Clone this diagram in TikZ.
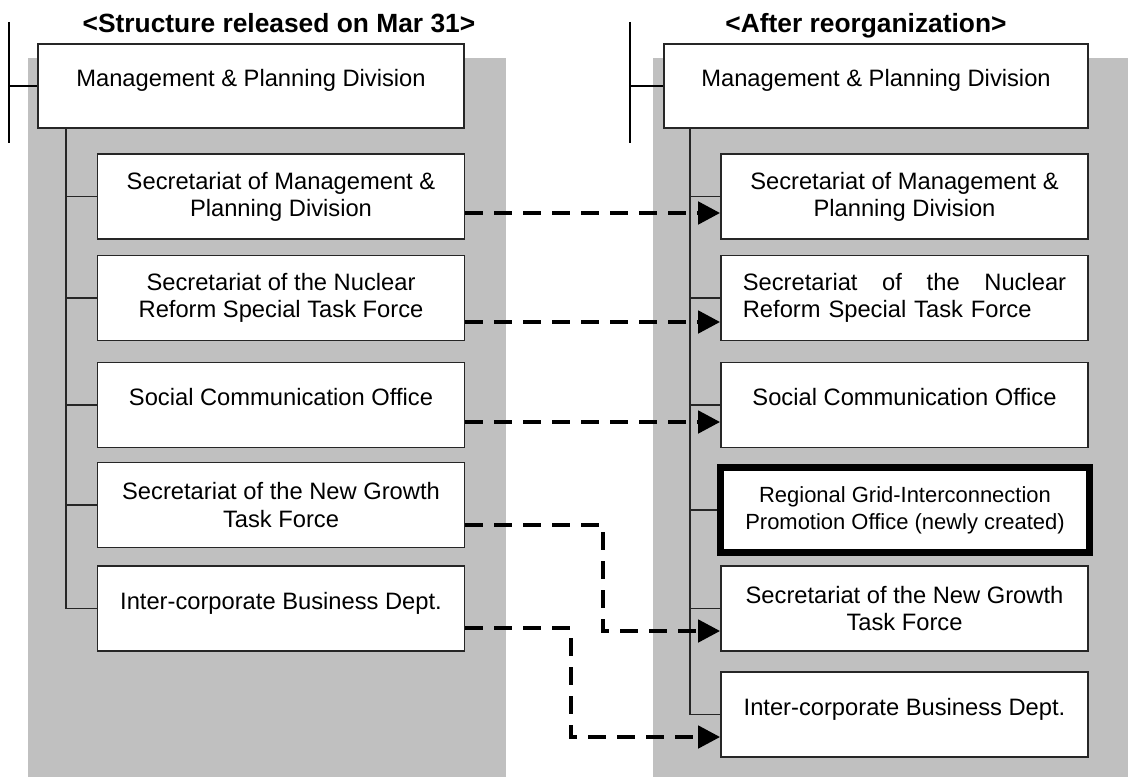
\documentclass[tikz,border=0pt]{standalone}
\usepackage{fontspec}
\setmainfont{Liberation Sans}
\usetikzlibrary{arrows.meta,calc}
\definecolor{panelgray}{RGB}{192,192,192}
\tikzset{
    unit/.style={draw=black!85, line width=1pt, fill=white, minimum width=7.34cm, minimum height=1.7cm,
        inner sep=0pt, align=center, font=\fontsize{13.5}{15.5}\selectfont},
    oneline/.style={text height=10pt, text depth=9pt},
    newunit/.style={unit, draw=black, line width=4pt, minimum width=7.38cm, font=\fontsize{12.5}{15.3}\selectfont},
    branch/.style={line width=0.6pt, black!85},
    bar/.style={line width=0.8pt, black},
    move/.style={line width=2.6pt, dash pattern=on 10pt off 6.5pt, -{Triangle[length=12.5pt,width=12.5pt]}},
    heading/.style={anchor=base, font=\bfseries\fontsize{15}{18}\selectfont}
}
\begin{document}
\begin{tikzpicture}[x=0.02cm, y=-0.02cm]
            \useasboundingbox (0,0) rectangle (1128,777);
            % Panels
            \fill[panelgray] (28,58) rectangle (506,777);
            \fill[panelgray] (653,58) rectangle (1128,777);
            % Headings
            \node[heading] (titleL) at (279,33) {<Structure released on Mar 31>};
            \node[heading] (titleR) at (866,33) {<After reorganization>};
            % Old structure
            \node[unit, oneline, minimum width=8.52cm, minimum height=1.68cm] (topL) at (251,86) {Management \& Planning Division};
            \node[unit] (L1) at (281,196.5) {Secretariat of Management \&\\Planning Division};
            \node[unit] (L2) at (281,298) {Secretariat of the Nuclear\\Reform Special Task Force};
            \node[unit, oneline] (L3) at (281,405) {Social Communication Office};
            \node[unit] (L4) at (281,505) {Secretariat of the New Growth\\Task Force};
            \node[unit, oneline] (L5) at (281,608.5) {Inter-corporate Business Dept.};
            % New structure
            \node[unit, oneline, minimum width=8.48cm, minimum height=1.68cm] (topR) at (876,86) {Management \& Planning Division};
            \node[unit] (R1) at (904.5,196.5) {Secretariat of Management \&\\Planning Division};
            \node[unit, text width=184pt, align=left] (R2) at (904.5,298) {\hbox to 184pt{Secretariat\hfill of\hfill the\hfill Nuclear}\\Reform Special Task Force};
            \node[unit, oneline] (R3) at (904.5,405) {Social Communication Office};
            \node[newunit] (R4) at (905,510) {Regional Grid-Interconnection\\Promotion Office (newly created)};
            \node[unit] (R5) at (904.5,608.5) {Secretariat of the New Growth\\Task Force};
            \node[unit, oneline] (R6) at (904.5,714.5) {Inter-corporate Business Dept.};
            % Side bars
            \draw[bar] (9,22) -- (9,143);
            \draw[bar] (9,86) -- (topL.west);
            \draw[bar] (630,22) -- (630,143);
            \draw[bar] (630,86) -- (topR.west);
            % Tree lines
            \coordinate (rootL) at (66,128);
            \coordinate (rootR) at (690,128);
            \draw[branch] (rootL) |- (L5.west);
            \foreach \n in {1,...,4} {
                \draw[branch] (rootL |- L\n.west) -- (L\n.west);
            }
            \draw[branch] (rootR) |- (R6.west);
            \foreach \n in {1,...,5} {
                \draw[branch] (rootR |- R\n.west) -- (R\n.west);
            }
            % Moves
            \foreach \n/\d in {1/16.5, 2/24, 3/17} {
                \draw[move] ($(L\n.east)+(0,\d)$) -- ($(R\n.west)+(0,\d)$);
            }
            \draw[move] ($(L4.east)+(0,20)$) -| ($(R5.west)+(-117,22.5)$) -- ($(R5.west)+(0,22.5)$);
            \draw[move] ($(L5.east)+(0,19.5)$) -| ($(R6.west)+(-149,22.5)$) -- ($(R6.west)+(0,22.5)$);
        \end{tikzpicture}
\end{document}
